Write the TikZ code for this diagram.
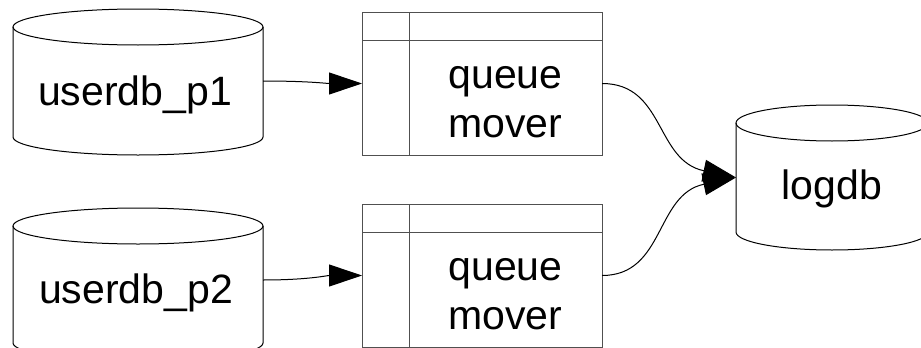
\documentclass[tikz,border=0pt]{standalone}
\usepackage{fontspec}
\setmainfont{Liberation Sans}
\usetikzlibrary{arrows.meta}
\definecolor{boxline}{HTML}{505050}
\tikzset{
  body/.style={draw=none, inner sep=0pt, outer sep=0pt, minimum width=#1},
  qbox/.style={draw=boxline, line width=1pt, inner sep=0pt, outer sep=0pt,
               minimum width=240pt, minimum height=143pt},
  lbl/.style={font=\fontsize{41}{49}\selectfont, inner sep=0pt, anchor=base},
  qlbl/.style={font=\fontsize{41}{49}\selectfont, inner sep=0pt, align=center, anchor=base},
  dbline/.style={draw=black, line width=1pt},
  arr/.style={draw=black, line width=1pt, -{Triangle[length=33pt, width=22pt]}}
}
\begin{document}
\begin{tikzpicture}[x=1pt,y=1pt]
\useasboundingbox (0,0) rectangle (921,-348);
\clip (0,0) rectangle (921,-348);
\fill[white] (0,0) rectangle (921,-348);

% cylinder bodies (between ellipse centres)
\node[body=250pt, minimum height=110pt] (u1) at (138,-82) {};
\node[body=250pt, minimum height=117pt] (u2) at (138,-284.5) {};
\node[body=192pt, minimum height=109pt] (db) at (832,-177.5) {};

\foreach \c/\rx in {u1/125, u2/125, db/96}{
  \draw[dbline] (\c.north west) -- (\c.south west)
     arc[start angle=180, end angle=360, x radius=\rx, y radius=18] -- (\c.north east);
  \draw[dbline] (\c.north) ellipse[x radius=\rx, y radius=18];
}

% labels of cylinders
\node[lbl] (u1t) at (135,-105) {userdb\_p1};
\node[lbl] (u2t) at (136,-303) {userdb\_p2};
\node[lbl] (dbt) at (832,-199) {logdb};

% queue mover boxes
\node[qbox] (q1) at (482,-83.5) {};
\node[qbox] (q2) at (482,-275.5) {};
\foreach \q in {q1,q2}{
  \draw[boxline, line width=1pt] ([yshift=-28pt]\q.north west) -- ([yshift=-28pt]\q.north east);
  \draw[boxline, line width=1pt] ([xshift=47pt]\q.north west) -- ([xshift=47pt]\q.south west);
}
\node[qlbl] (q1t) at (505.5,-137) {queue\\mover};
\node[qlbl] (q2t) at (505.5,-329) {queue\\mover};

% connectors
\draw[arr] ([yshift=1pt]u1.east) .. controls +(45,0) and +(-35,0) .. (q1.west);
\draw[arr] ([yshift=4.5pt]u2.east) .. controls +(45,0) and +(-35,0) .. (q2.west);
\draw[arr] (q1.east) .. controls +(63,0) and +(-81,17) .. (db.west);
\draw[arr] (q2.east) .. controls +(63,0) and +(-81,-17) .. (db.west);
\end{tikzpicture}
\end{document}
